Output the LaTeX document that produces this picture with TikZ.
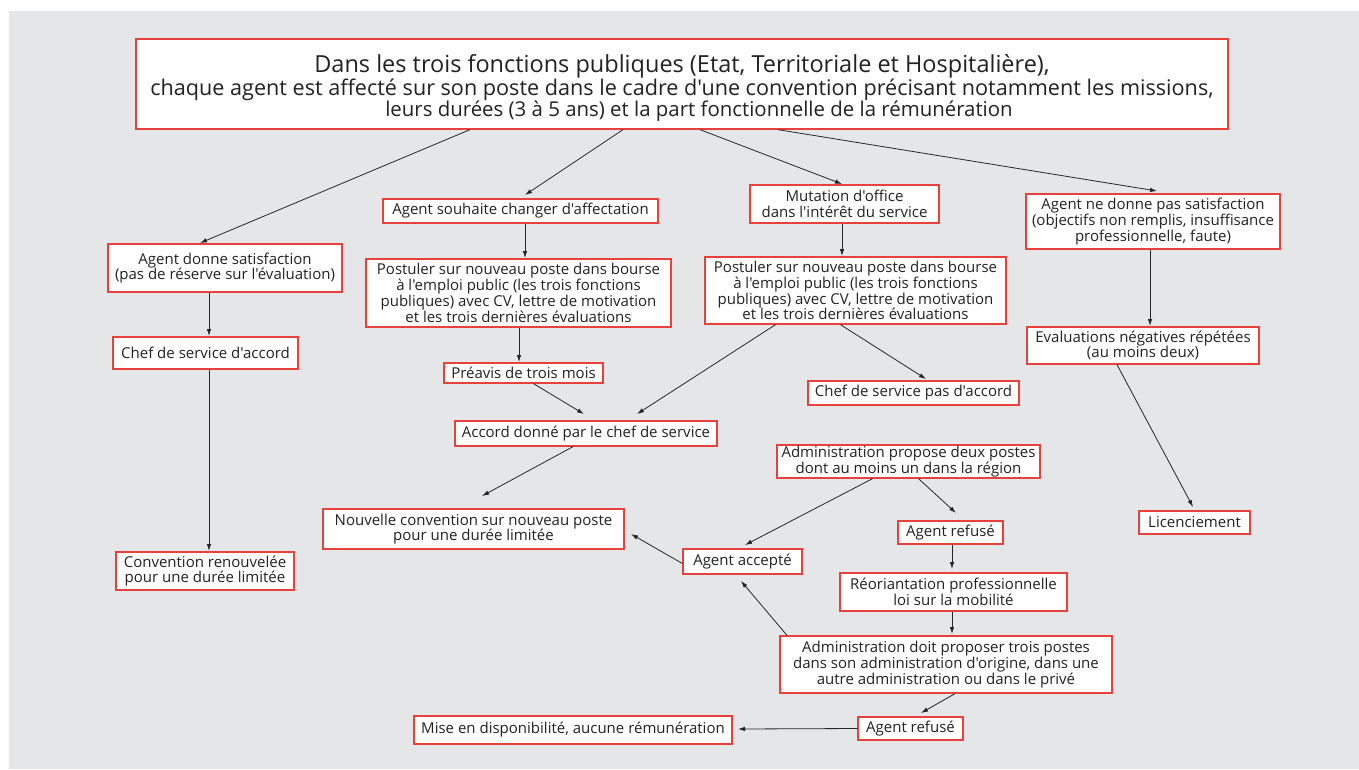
\documentclass[tikz,border=0pt]{standalone}
\usepackage{fontspec}
\setmainfont{Open Sans}[Ligatures=TeXOff]
\usetikzlibrary{arrows.meta,calc}
\definecolor{bgray}{HTML}{E5E6E8}
\definecolor{bred}{HTML}{E8403A}
\definecolor{txt}{HTML}{222222}
\tikzset{
  box/.style={draw=bred, line width=1.3pt, fill=white, inner sep=0pt, align=center, text=txt,
    font=\fontsize{15}{15.8}\selectfont},
  titlebox/.style={box, font=\fontsize{21}{21.5}\selectfont},
  arr/.style={draw=black!85, line width=0.8pt, -{Latex[length=7pt,width=4.5pt]}},
}
\begin{document}
\begin{tikzpicture}[x=1pt,y=-1pt]
\useasboundingbox (0,0) rectangle (1359,769);
\fill[bgray] (9,11) rectangle (1359,769);

\node[titlebox, minimum width=1092, minimum height=90] (title) at (682,84)
 {{\fontsize{23.5}{21.5}\selectfont\rule{0pt}{26pt}Dans les trois fonctions publiques (Etat, Territoriale et Hospitalière),}\\
  {\fontsize{21.6}{21.5}\selectfont chaque agent est affecté sur son poste dans le cadre d'une convention précisant notamment les missions,}\\
  {\fontsize{20.4}{21.5}\selectfont\hspace*{34pt}leurs durées (3 à 5 ans) et la part fonctionnelle de la rémunération}};

\node[box, minimum width=234, minimum height=48] (sat) at (225,268)
 {Agent donne satisfaction\\(pas de réserve sur l'évaluation)};
\node[box, minimum width=185, minimum height=32] (chefacc) at (205.5,353)
 {Chef de service d'accord};
\node[box, minimum width=178, minimum height=38] (convren) at (205,571)
 {Convention renouvelée\\pour une durée limitée};

\node[box, minimum width=275, minimum height=24] (souh) at (520.5,211)
 {Agent souhaite changer d'affectation};
\node[box, minimum width=305, minimum height=68] (postL) at (518.5,293)
 {Postuler sur nouveau poste dans bourse\\à l'emploi public (les trois fonctions\\publiques) avec CV, lettre de motivation\\et les trois dernières évaluations};
\node[box, minimum width=159, minimum height=20] (preavis) at (523.5,373)
 {Préavis de trois mois};
\node[box, minimum width=262, minimum height=25] (accord) at (586,433.5)
 {Accord donné par le chef de service};
\node[box, minimum width=301, minimum height=40] (nouv) at (473.5,529)
 {Nouvelle convention sur nouveau poste\\pour une durée limitée};

\node[box, minimum width=189, minimum height=38] (mut) at (844.5,204)
 {Mutation d'office\\dans l'intérêt du service};
\node[box, minimum width=301, minimum height=67] (postR) at (855.5,290.5)
 {Postuler sur nouveau poste dans bourse\\à l'emploi public (les trois fonctions\\publiques) avec CV, lettre de motivation\\et les trois dernières évaluations};
\node[box, minimum width=211, minimum height=24] (chefpas) at (913.5,393)
 {Chef de service pas d'accord};

\node[box, minimum width=263, minimum height=33] (adm2) at (908.5,461.5)
 {Administration propose deux postes\\dont au moins un dans la région};
\node[box, minimum width=105, minimum height=23] (ref1) at (950.5,532.5)
 {Agent refusé};
\node[box, minimum width=119, minimum height=25] (acc) at (742.5,561.5)
 {Agent accepté};
\node[box, minimum width=227, minimum height=38] (reor) at (953.5,592)
 {Réoriantation professionnelle\\loi sur la mobilité};
\node[box, minimum width=332, minimum height=57] (adm3) at (946,664.5)
 {Administration doit proposer trois postes\\dans son administration d'origine, dans une\\autre administration ou dans le privé};
\node[box, minimum width=105, minimum height=23] (ref2) at (910.5,728.5)
 {Agent refusé};
\node[box, minimum width=318, minimum height=28] (mise) at (573,730)
 {Mise en disponibilité, aucune rémunération};

\node[box, minimum width=254, minimum height=55] (nesat) at (1153,221.5)
 {Agent ne donne pas satisfaction\\(objectifs non remplis, insuffisance\\professionnelle, faute)};
\node[box, minimum width=232, minimum height=37] (evneg) at (1143,345.5)
 {Evaluations négatives répétées\\(au moins deux)};
\node[box, minimum width=111, minimum height=23] (licen) at (1194.5,522.5)
 {Licenciement};

% arrow tips
\coordinate (t1) at (200,243);
\coordinate (t2) at (525,195);
\coordinate (t3) at (842,184);
\coordinate (t4) at (1157,191);
\coordinate (t5) at (209,336);
\coordinate (t6) at (209,551);
\coordinate (t7) at (525,258);
\coordinate (t8) at (842,256);
\coordinate (t9) at (519,362);
\coordinate (t10) at (1150,326);
\coordinate (t11) at (1193,507);
\coordinate (t12) at (584,414);
\coordinate (t13) at (637,414);
\coordinate (t14) at (926,379);
\coordinate (t15) at (482,496);
\coordinate (t16) at (631,534);
\coordinate (t17) at (745,545);
\coordinate (t18) at (956,513);
\coordinate (t19) at (952,569);
\coordinate (t20) at (952,634);
\coordinate (t21) at (741,581);
\coordinate (t22) at (921,713);
\coordinate (t23) at (738,729);

\draw[arr] ([xshift=-212pt]title.south) -- (t1);
\draw[arr] ([xshift=-59pt]title.south) -- (t2);
\draw[arr] ([xshift=18pt]title.south) -- (t3);
\draw[arr] ([xshift=96pt]title.south) -- (t4);
\draw[arr] (sat.south -| t5) -- (t5);
\draw[arr] (chefacc.south -| t6) -- (t6);
\draw[arr] (souh.south -| t7) -- (t7);
\draw[arr] (mut.south -| t8) -- (t8);
\draw[arr] (postL.south -| t9) -- (t9);
\draw[arr] (nesat.south -| t10) -- (t10);
\draw[arr] ([xshift=-26pt]evneg.south) -- (t11);
\draw[arr] ([xshift=10pt]preavis.south) -- (t12);
\draw[arr] ([xshift=-80pt]postR.south) -- (t13);
\draw[arr] ([xshift=-15pt]postR.south) -- (t14);
\draw[arr] ([xshift=-13pt]accord.south) -- (t15);
\draw[arr] ([yshift=-2pt]acc.west) -- (t16);
\draw[arr] ([xshift=-36pt]adm2.south) -- (t17);
\draw[arr] ([xshift=10pt]adm2.south) -- (t18);
\draw[arr] (ref1.south -| t19) -- (t19);
\draw[arr] (reor.south -| t20) -- (t20);
\draw[arr] ([xshift=-159pt]adm3.north) -- (t21);
\draw[arr] ([xshift=9pt]adm3.south) -- (t22);
\draw[arr] (ref2.west) -- (t23);
\end{tikzpicture}
\end{document}
